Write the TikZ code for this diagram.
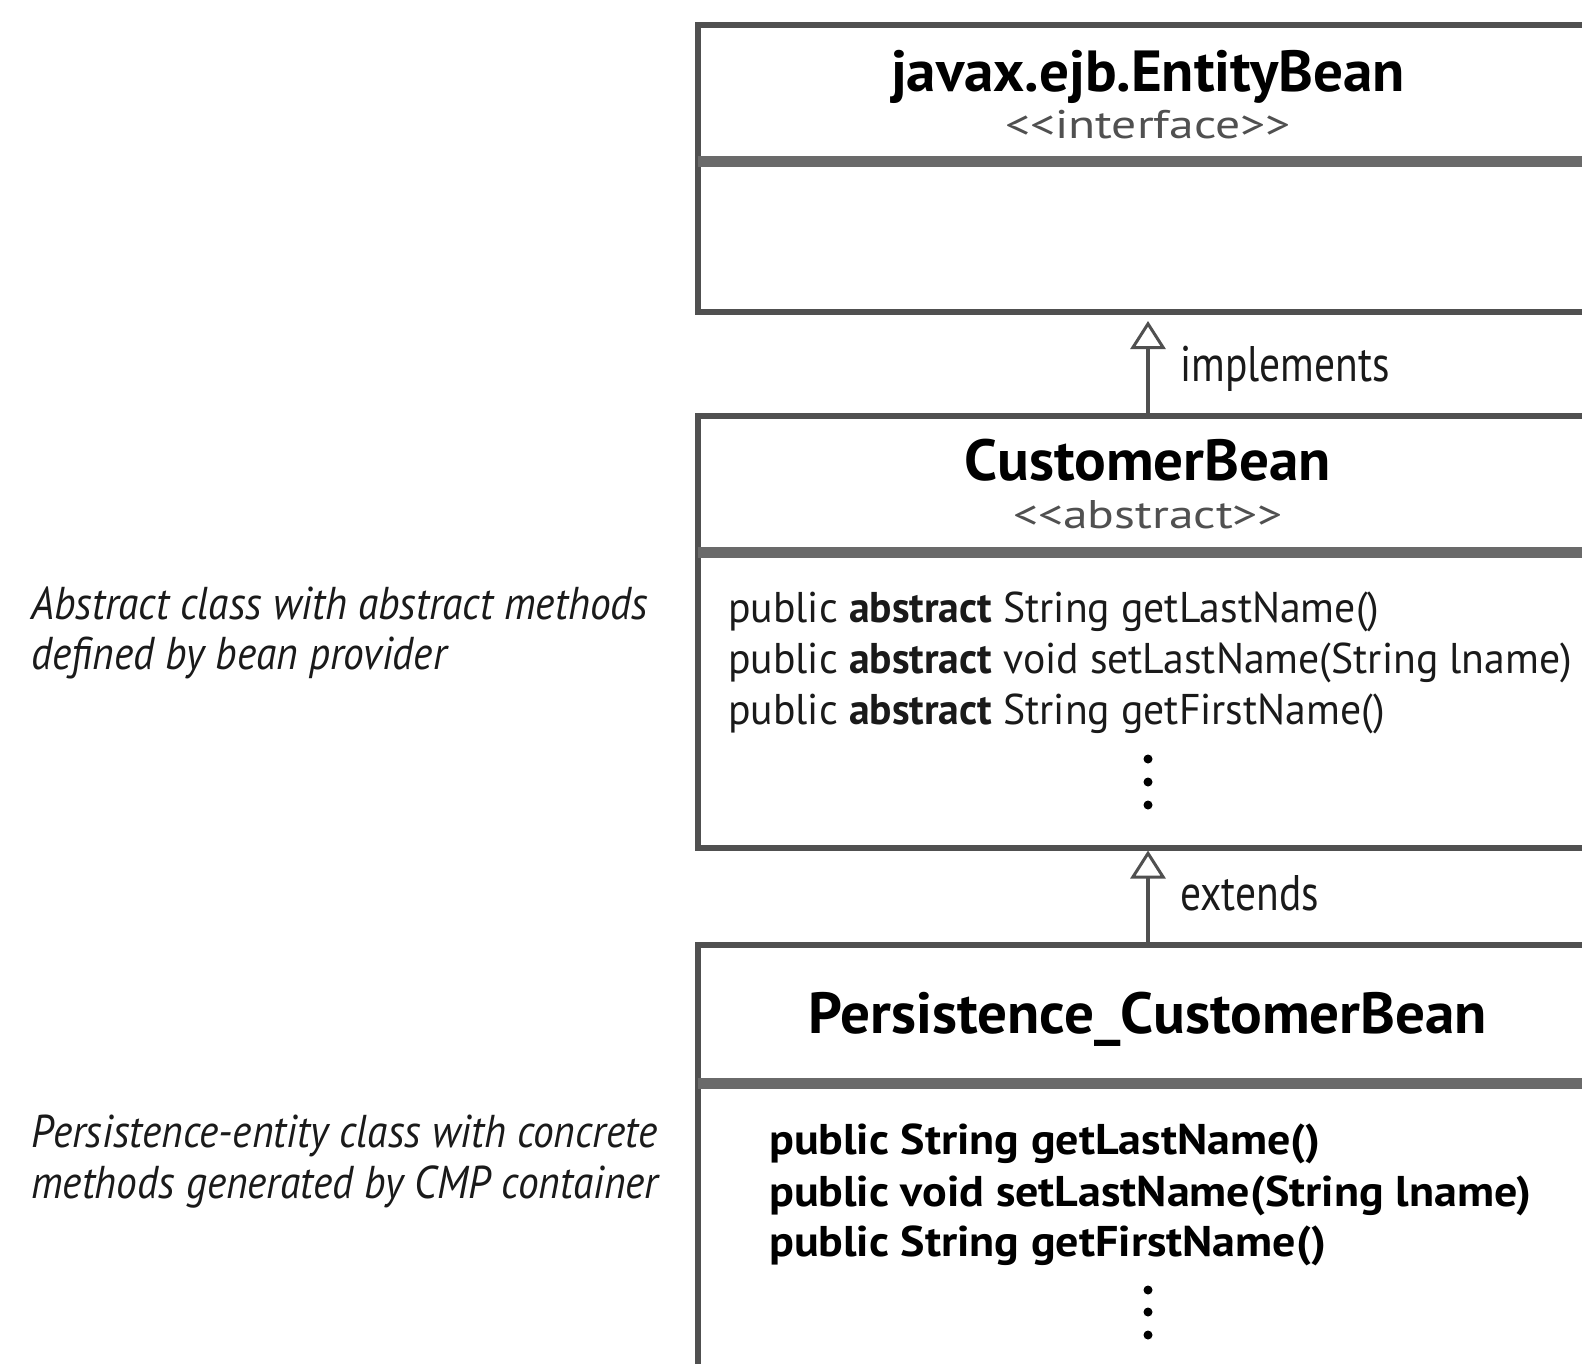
\documentclass[tikz,border=0pt]{standalone}
\usepackage{fontspec}
\setmainfont{PT Sans}
\newfontfamily\titlefont{PT Sans}[FakeStretch=1.02]
\newfontfamily\stereofont{PT Sans}[FakeStretch=1.24]
\newfontfamily\labelfont{PT Sans}[FakeStretch=0.83]
\newfontfamily\methodfont{PT Sans}[FakeStretch=0.97]
\newfontfamily\boldmethodfont{PT Sans}[FakeStretch=1.07]
\newfontfamily\notefont{PT Sans}[FakeStretch=0.90]
\usetikzlibrary{arrows.meta}
\definecolor{bordergray}{HTML}{505050}
\definecolor{sepgray}{HTML}{6A6A6A}
\definecolor{txt}{HTML}{1A1A1A}
\definecolor{lighttxt}{HTML}{505050}
\tikzset{
  umlbox/.style={draw=bordergray, line width=6pt, inner sep=0pt, outer sep=0pt, fill=white},
  sepline/.style={draw=sepgray, line width=11pt},
  inherit/.style={draw=bordergray, line width=4pt,
    -{Triangle[open, length=28pt, width=35pt, line width=3pt]}},
  titletext/.style={anchor=base, inner sep=0pt, text=black, font=\titlefont\fontsize{58}{60}\selectfont\bfseries},
  stereo/.style={anchor=base, inner sep=0pt, text=lighttxt, font=\stereofont\fontsize{40}{42}\selectfont},
  lbl/.style={anchor=base west, inner sep=0pt, text=txt, font=\labelfont\fontsize{50}{52}\selectfont},
  method/.style={anchor=base west, inner sep=0pt, text=txt, font=\methodfont\fontsize{43}{45}\selectfont},
  boldmethod/.style={anchor=base west, inner sep=0pt, text=black, font=\boldmethodfont\fontsize{43}{45}\selectfont\bfseries},
  note/.style={anchor=base west, inner sep=0pt, text=txt, font=\notefont\fontsize{46}{48}\selectfont\itshape},
  dotmark/.style={fill=black, draw=none}
}
\begin{document}
\begin{tikzpicture}[x=1pt,y=-1pt]
\useasboundingbox (0,0) rectangle (1582,1363);
\clip (0,0) rectangle (1582,1363);
\fill[white] (0,0) rectangle (1582,1363);

% boxes
\node[umlbox, minimum width=901pt, minimum height=287.5pt] (b1) at (1148,168.25) {};
\node[umlbox, minimum width=901pt, minimum height=432pt] (b2) at (1148,631.5) {};
\node[umlbox, minimum width=901pt, minimum height=455pt] (b3) at (1148,1172.5) {};

% separators
\draw[sepline] (b1.west |- 0,161.5) -- (b1.east |- 0,161.5);
\draw[sepline] (b2.west |- 0,552.5) -- (b2.east |- 0,552.5);
\draw[sepline] (b3.west |- 0,1083) -- (b3.east |- 0,1083);

% box 1
\node[titletext] (t1) at (1148,91) {javax.ejb.EntityBean};
\node[stereo] (s1) at (1148,138) {{<}{<}interface{>}{>}};

% box 2
\node[titletext] (t2) at (1148,480) {CustomerBean};
\node[stereo] (s2) at (1148,528) {{<}{<}abstract{>}{>}};
\node[method] (m21) at (728,622) {public \textbf{abstract} String getLastName()};
\node[method] (m22) at (728,673) {public \textbf{abstract} void setLastName(String lname)};
\node[method] (m23) at (728,724) {public \textbf{abstract} String getFirstName()};
\fill[dotmark] (1148,759) circle (4.5);
\fill[dotmark] (1148,782) circle (4.5);
\fill[dotmark] (1148,805) circle (4.5);

% box 3
\node[titletext] (t3) at (1148,1033) {Persistence\_CustomerBean};
\node[boldmethod] (m31) at (769,1154) {public String getLastName()};
\node[boldmethod] (m32) at (769,1206) {public void setLastName(String lname)};
\node[boldmethod] (m33) at (769,1256) {public String getFirstName()};
\fill[dotmark] (1148,1290) circle (4.5);
\fill[dotmark] (1148,1312) circle (4.5);
\fill[dotmark] (1148,1335) circle (4.5);

% connectors
\draw[inherit, shorten >=9pt] (b2.north) -- (b1.south);
\draw[inherit, shorten >=3pt] (b3.north) -- (b2.south);
\node[lbl] (l1) at (1180,381) {implements};
\node[lbl] (l2) at (1180,910) {extends};

% notes
\node[note] (n1a) at (31,619) {Abstract class with abstract methods};
\node[note] (n1b) at (31,669) {defined by bean provider};
\node[note] (n2a) at (31,1147) {Persistence-entity class with concrete};
\node[note] (n2b) at (31,1198) {methods generated by CMP container};
\end{tikzpicture}
\end{document}
